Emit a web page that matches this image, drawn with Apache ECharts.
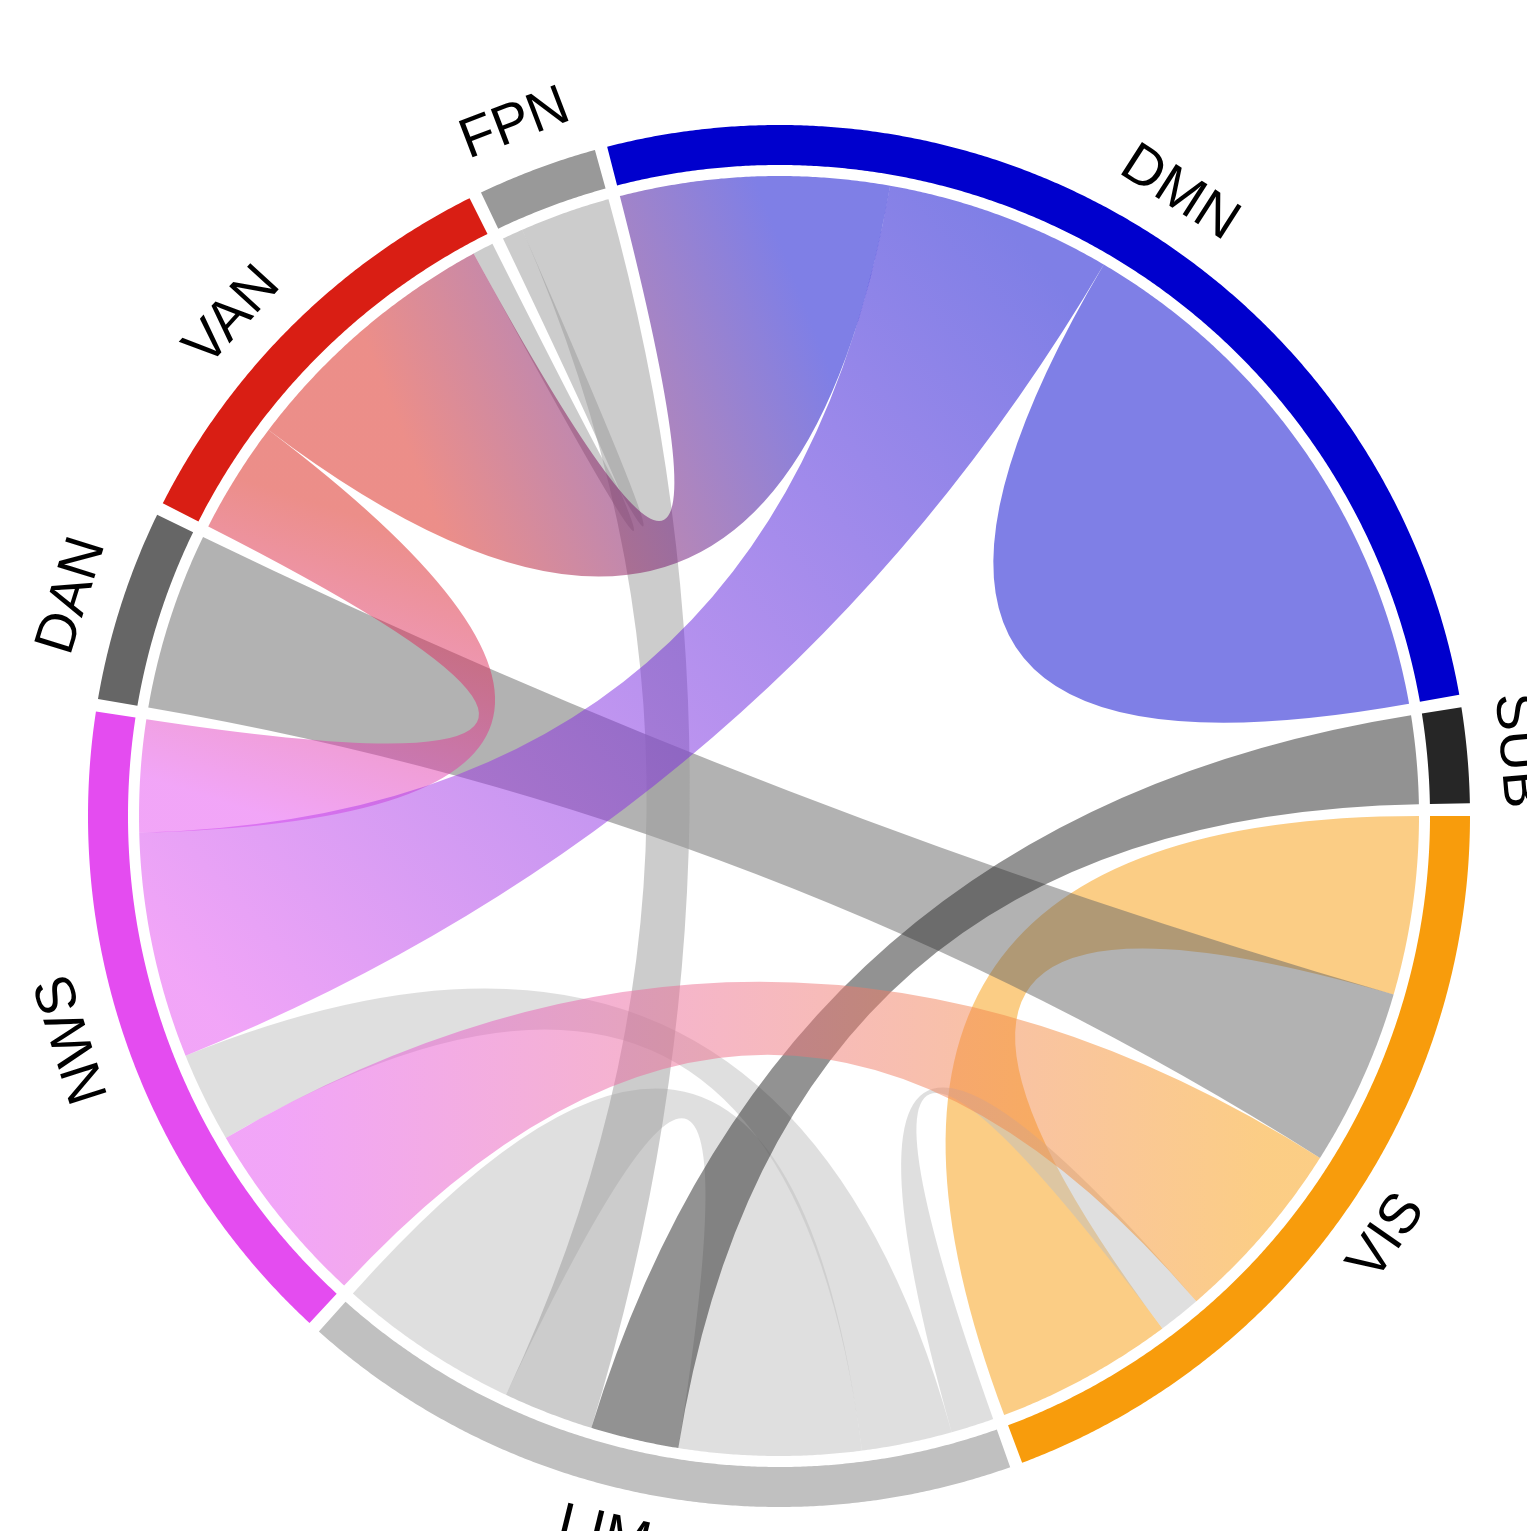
<!DOCTYPE html>
<html>
<head>
<meta charset="utf-8">
<script src="https://cdn.jsdelivr.net/npm/echarts@6/dist/echarts.min.js"></script>
<style>
  html, body { margin: 0; padding: 0; background: #ffffff; }
  #chart { width: 1527px; height: 1531px; }
</style>
</head>
<body>
<div id="chart"></div>
<script>
// Network groups, clockwise from the top
const groups = ['DMN', 'SUB', 'VIS', 'LIM', 'NWS', 'DAN', 'VAN', 'FPN'];
const groupColors = ['#0000cd', '#262626', '#f89c0c', '#c0c0c0', '#e44cf0', '#666666', '#d91e14', '#999999'];

// Connections between groups
const linkFrom   = ['DMN', 'DMN', 'DMN', 'SUB', 'VIS', 'DAN', 'VIS', 'LIM', 'LIM', 'LIM', 'FPN', 'VAN', 'VAN'];
const linkTo     = ['VAN', 'NWS', 'DMN', 'LIM', 'VIS', 'VIS', 'NWS', 'VIS', 'NWS', 'LIM', 'LIM', 'NWS', 'FPN'];
const linkValues = [24.4, 20.5, 24.7, 8.0, 16.2, 16.1, 17.0, 3.9, 8.2, 16.5, 8.2, 10.2, 1.9];
// ribbon tint: 'blend' = gradient between both groups, otherwise the named group's colour
const linkTint   = ['blend', 'blend', 'DMN', 'SUB', 'VIS', 'DAN', 'blend', 'LIM', 'LIM', 'LIM', 'FPN', 'blend', 'FPN'];

// Order of link ends along each group's arc, clockwise (a self link appears twice)
const groupEnds = [
  [0, 1, 2, 2],
  [3],
  [4, 5, 6, 7, 4],
  [7, 8, 9, 3, 10, 9],
  [6, 8, 1, 11],
  [5],
  [11, 0, 12],
  [12, 10]
];

// ---- drawing settings ----
const START_ANGLE = 345.6;     // degrees clockwise from 12 o'clock where DMN begins
const PAD_ANGLE = 1.05;        // gap between groups, degrees
const R_RIBBON = 640;
const R_RING_IN = 651;
const R_RING_OUT = 691;
const R_LABEL = 740;
const R_MAX = 760;
const LABEL_SIZE = 56;
const LABEL_NUDGE = [0, 0, 0, 2.6, 1.7, -0.5, -2.7, -0.4];   // degrees, per group label
const RIBBON_ALPHA = 0.5;
const CROSSED_LINKS = [12];    // links whose second end is traversed backwards
const DRAW_ORDER = [2, 4, 9, 8, 7, 5, 10, 12, 3, 6, 0, 11, 1];

// ---- layout of arcs (in angle-axis units, degrees) ----
const totals = groupEnds.map(ends => ends.reduce((s, i) => s + linkValues[i], 0));
const unit = (360 - PAD_ANGLE * groups.length) / totals.reduce((a, b) => a + b, 0);
const groupArcs = [];
const linkEnds = linkValues.map(() => []);
let cursor = START_ANGLE;
groupEnds.forEach((ends, g) => {
  const g0 = cursor;
  ends.forEach(i => {
    const a0 = cursor;
    cursor += linkValues[i] * unit;
    linkEnds[i].push({ g: g, a0: a0, a1: cursor });
  });
  groupArcs.push({ a0: g0, a1: cursor });
  cursor += PAD_ANGLE;
});

const norm = a => ((a % 360) + 360) % 360;

function rgba(hex, a) {
  const n = parseInt(hex.slice(1), 16);
  return 'rgba(' + ((n >> 16) & 255) + ',' + ((n >> 8) & 255) + ',' + (n & 255) + ',' + a + ')';
}

function arcPoints(api, r, a0, a1) {
  const n = Math.max(2, Math.ceil(Math.abs(a1 - a0) / 0.25) + 1);
  const pts = [];
  for (let k = 0; k < n; k++) {
    const a = a0 + (a1 - a0) * k / (n - 1);
    pts.push(api.coord([r, norm(a)]));
  }
  return pts;
}

function renderGroup(params, api) {
  const g = params.dataIndex;
  const arc = groupArcs[g];
  const outer = arcPoints(api, R_RING_OUT, arc.a0, arc.a1);
  const inner = arcPoints(api, R_RING_IN, arc.a1, arc.a0);
  const mid = norm((arc.a0 + arc.a1) / 2 + LABEL_NUDGE[g]);
  const flip = mid > 90 && mid < 240;
  const rot = flip ? mid - 180 : mid;
  const p = api.coord([R_LABEL, mid]);
  return {
    type: 'group',
    children: [
      {
        type: 'polygon',
        shape: { points: outer.concat(inner) },
        style: { fill: groupColors[g] }
      },
      {
        type: 'text',
        x: p[0],
        y: p[1],
        rotation: -rot * Math.PI / 180,
        style: {
          text: groups[g],
          fill: '#000000',
          fontSize: LABEL_SIZE,
          fontFamily: 'Liberation Sans',
          align: 'center',
          verticalAlign: 'middle'
        }
      }
    ]
  };
}

function renderLink(params, api) {
  const i = DRAW_ORDER[params.dataIndex];
  const e1 = linkEnds[i][0];
  const e2 = linkEnds[i][1];
  const c = api.coord([0, 0]);
  const A = arcPoints(api, R_RIBBON, e1.a0, e1.a1);
  const B = CROSSED_LINKS.indexOf(i) >= 0
    ? arcPoints(api, R_RIBBON, e2.a1, e2.a0)
    : arcPoints(api, R_RIBBON, e2.a0, e2.a1);
  const f = pt => pt[0].toFixed(2) + ' ' + pt[1].toFixed(2);
  const curveTo = (from, to) => {
    const dx = from[0] - to[0], dy = from[1] - to[1];
    if (dx * dx + dy * dy < 1) return ' L' + f(to);
    return ' Q' + f(c) + ' ' + f(to);
  };
  let d = 'M' + f(A[0]);
  for (let k = 1; k < A.length; k++) d += ' L' + f(A[k]);
  d += curveTo(A[A.length - 1], B[0]);
  for (let k = 1; k < B.length; k++) d += ' L' + f(B[k]);
  d += curveTo(B[B.length - 1], A[0]);
  d += ' Z';

  let fill;
  if (linkTint[i] === 'blend') {
    const m1 = api.coord([R_RIBBON, norm((e1.a0 + e1.a1) / 2)]);
    const m2 = api.coord([R_RIBBON, norm((e2.a0 + e2.a1) / 2)]);
    fill = new echarts.graphic.LinearGradient(m1[0], m1[1], m2[0], m2[1], [
      { offset: 0, color: rgba(groupColors[e1.g], RIBBON_ALPHA) },
      { offset: 1, color: rgba(groupColors[e2.g], RIBBON_ALPHA) }
    ], true);
  } else {
    fill = rgba(groupColors[groups.indexOf(linkTint[i])], RIBBON_ALPHA);
  }
  return {
    type: 'path',
    shape: { pathData: d },
    style: { fill: fill, stroke: null }
  };
}

const chart = echarts.init(document.getElementById('chart'), null, { renderer: 'canvas' });
chart.setOption({
  animation: false,
  backgroundColor: '#ffffff',
  polar: { center: [779, 816], radius: R_MAX },
  angleAxis: { type: 'value', min: 0, max: 360, startAngle: 90, clockwise: true, show: false },
  radiusAxis: { type: 'value', min: 0, max: R_MAX, show: false },
  series: [
    {
      type: 'custom',
      name: 'links',
      coordinateSystem: 'polar',
      silent: true,
      renderItem: renderLink,
      data: DRAW_ORDER.map(i => [R_RIBBON, norm(linkEnds[i][0].a0), linkValues[i]])
    },
    {
      type: 'custom',
      name: 'groups',
      coordinateSystem: 'polar',
      silent: true,
      renderItem: renderGroup,
      data: groups.map((name, g) => [R_RING_OUT, norm((groupArcs[g].a0 + groupArcs[g].a1) / 2), totals[g]])
    }
  ]
});
</script>
</body>
</html>
